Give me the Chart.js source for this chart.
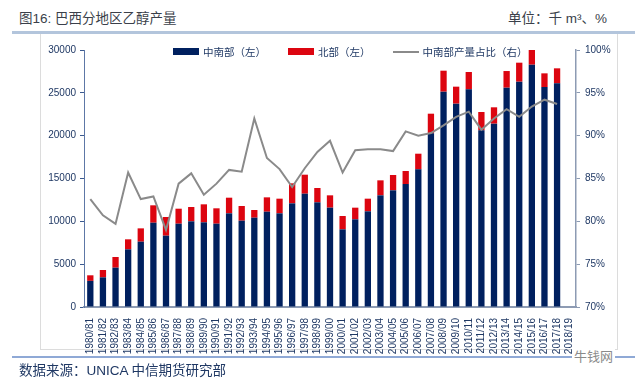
<!DOCTYPE html>
<html>
<head>
<meta charset="utf-8">
<script src="https://cdn.jsdelivr.net/npm/chart.js@4/dist/chart.umd.min.js"></script>
<style>
  html,body{margin:0;padding:0;background:#fff;}
  body{width:635px;height:389px;position:relative;overflow:hidden;font-family:"Liberation Sans","Noto Sans CJK SC",sans-serif;}
  .abs{position:absolute;}
  #title{left:19px;top:9px;font-size:13.5px;line-height:19px;color:#3a3f4a;white-space:nowrap;}
  #unit{right:28px;top:9px;font-size:13.5px;line-height:19px;color:#3a3f4a;white-space:nowrap;}
  #topline{left:12px;right:0;top:31px;height:3px;background:#b3c5dc;}
  #frame{left:40px;top:34px;width:576px;height:315px;border-left:1px solid #dcdcdc;border-right:1px solid #dcdcdc;border-bottom:1px solid #dcdcdc;}
  #botline{left:12px;right:0;top:356px;height:2px;background:#8fa9d6;}
  #source{left:19px;top:361px;font-size:13.5px;line-height:19px;color:#1f3864;white-space:nowrap;}
  #wm{left:572px;top:348px;font-size:13px;line-height:17px;color:#8a8a8a;white-space:nowrap;background:#fff;padding:0 2px;}
  #legend{left:173px;top:44px;display:flex;align-items:center;font-size:10.5px;color:#1f3864;white-space:nowrap;}
  .li{display:flex;align-items:center;margin-right:22px;}
  .sw{width:26px;margin-right:4px;}
  canvas{position:absolute;left:0;top:0;}
</style>
</head>
<body>
<div id="title" class="abs">图16: 巴西分地区乙醇产量</div>
<div id="unit" class="abs">单位：千 m³、%</div>
<div id="topline" class="abs"></div>
<div id="frame" class="abs"></div>
<canvas id="c" width="635" height="389"></canvas>
<div id="legend" class="abs"></div>
<div id="botline" class="abs"></div>
<div id="source" class="abs">数据来源：UNICA 中信期货研究部</div>
<div id="wm" class="abs">牛钱网</div>
<script>
const categories = ['1980/81','1981/82','1982/83','1983/84','1984/85','1985/86','1986/87','1987/88','1988/89','1989/90',
  '1990/91','1991/92','1992/93','1993/94','1994/95','1995/96','1996/97','1997/98','1998/99','1999/00',
  '2000/01','2001/02','2002/03','2003/04','2004/05','2005/06','2006/07','2007/08','2008/09','2009/10',
  '2010/11','2011/12','2012/13','2013/14','2014/15','2015/16','2016/17','2017/18','2018/19'];

const centerSouth = [3050,3460,4590,6730,7625,9840,8325,9725,10000,9885,
  9725,10935,10075,10425,11125,10935,12100,13225,12220,11595,
  9065,10235,11170,13035,13620,14355,16070,20270,25135,23735,
  25410,20625,21400,25600,26300,28285,25680,26110,null];

const north = [650,860,1250,1170,1555,2030,2180,1750,1670,2100,
  1795,1825,1715,895,1675,1710,2335,2220,1670,1440,
  1555,1360,1475,1750,1790,1520,1825,2295,2450,1985,
  2020,2135,1910,1945,2220,1800,1595,1750,null];

const shareCS = [82.6,80.7,79.7,85.7,82.6,82.9,79.0,84.4,85.6,83.1,
  84.4,86.0,85.8,92.0,87.4,86.1,84.0,86.2,88.1,89.4,
  85.7,88.3,88.4,88.4,88.2,90.5,90.0,90.3,91.2,92.2,
  92.8,90.7,92.0,93.1,92.2,93.4,94.2,93.7,null];

const leftTicks = {min:0, max:30000, step:5000};
const rightTicks = {min:70, max:100, step:5};

const seriesNames = ['中南部（左）','北部（左）','中南部产量占比（右）'];
const NAVY = '#00205f', RED = '#dc0510', GRAY = '#8a8a8a', TXT = '#1f3864';

const fontFam = '"Liberation Sans","Noto Sans CJK SC",sans-serif';

// HTML legend built from series names
const lg = document.getElementById('legend');
[[seriesNames[0], NAVY, 'box'], [seriesNames[1], RED, 'box'], [seriesNames[2], GRAY, 'line']].forEach(([n,c,t]) => {
  const d = document.createElement('div'); d.className = 'li';
  const s = document.createElement('div'); s.className = 'sw';
  s.style.background = c; s.style.height = t === 'box' ? '7px' : '2px';
  const sp = document.createElement('span'); sp.textContent = n;
  d.appendChild(s); d.appendChild(sp); lg.appendChild(d);
});

new Chart(document.getElementById('c'), {
  data: {
    labels: categories,
    datasets: [
      {type:'line', label: seriesNames[2], data: shareCS, yAxisID:'y2', borderColor: GRAY, borderWidth: 2,
       pointRadius: 0, tension: 0, order: 0, spanGaps: false},
      {type:'bar', label: seriesNames[0], data: centerSouth, yAxisID:'y', backgroundColor: NAVY,
       stack:'s', order: 1, barPercentage: 0.5, categoryPercentage: 1},
      {type:'bar', label: seriesNames[1], data: north, yAxisID:'y', backgroundColor: RED,
       stack:'s', order: 1, barPercentage: 0.5, categoryPercentage: 1}
    ]
  },
  options: {
    responsive: false,
    animation: false,
    devicePixelRatio: 1,
    layout: {padding: {top: 50, left: 0, right: 0, bottom: 0}},
    plugins: {legend: {display: false}, tooltip: {enabled: false}, title: {display: false}},
    scales: {
      x: {
        stacked: true,
        grid: {display: false},
        border: {display: true, color: '#8d9bb3', width: 2},
        ticks: {maxRotation: 90, minRotation: 90, autoSkip: false, padding: 3,
          color: TXT, font: {family: fontFam, size: 10}},
        afterFit: s => { s.height = 82; }
      },
      y: {
        position: 'left', stacked: true,
        min: leftTicks.min, max: leftTicks.max,
        grid: {drawOnChartArea: false, drawTicks: true, tickLength: 4, color: '#3b5a8f'},
        border: {display: true, color: '#5d77a6', width: 1},
        ticks: {stepSize: leftTicks.step, padding: 4, color: TXT, font: {family: fontFam, size: 10},
          callback: v => String(v)},
        afterFit: s => { s.width = 84; }
      },
      y2: {
        position: 'right',
        min: rightTicks.min, max: rightTicks.max,
        grid: {drawOnChartArea: false, drawTicks: true, tickLength: 4, color: '#8d9bb3'},
        border: {display: true, color: '#8d9bb3', width: 1.5},
        ticks: {stepSize: rightTicks.step, padding: 5, color: TXT, font: {family: fontFam, size: 10},
          callback: v => v + '%'},
        afterFit: s => { s.width = 59; }
      }
    }
  }
});
</script>
</body>
</html>
